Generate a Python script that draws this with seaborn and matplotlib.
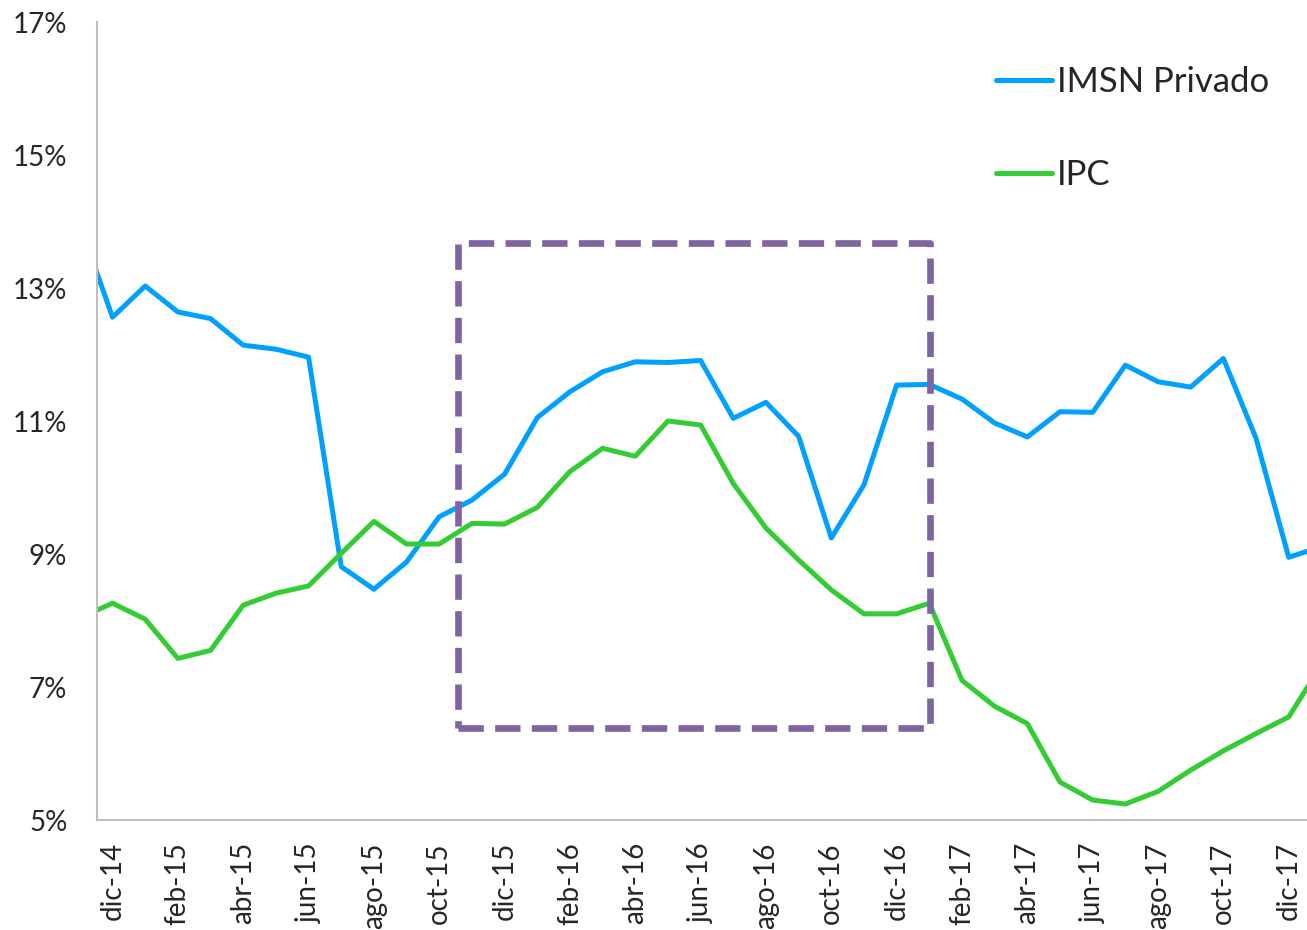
import matplotlib
matplotlib.use("Agg")
from matplotlib import pyplot as plt
from matplotlib.patches import Rectangle
from matplotlib.ticker import PercentFormatter
import pandas as pd
import seaborn as sns

# posicion 0 = dic-14; -1 = nov-14 y 37 = ene-18 quedan medio recortados
positions = list(range(-1, 38))

imsn_privado = [13.96, 12.56, 13.03, 12.64, 12.54, 12.14, 12.08, 11.96, 8.81, 8.47,
                8.88, 9.56, 9.81, 10.20, 11.05, 11.44, 11.74, 11.89, 11.88, 11.91,
                11.04, 11.28, 10.77, 9.24, 10.04, 11.54, 11.55, 11.33, 10.97, 10.76,
                11.14, 11.13, 11.84, 11.59, 11.51, 11.94, 10.74, 8.95, 9.11]

ipc = [8.04, 8.26, 8.02, 7.43, 7.55, 8.23, 8.41, 8.52, 9.01, 9.49,
       9.15, 9.15, 9.46, 9.45, 9.70, 10.24, 10.59, 10.47, 11.00, 10.94,
       10.06, 9.39, 8.91, 8.46, 8.10, 8.10, 8.26, 7.10, 6.71, 6.45,
       5.57, 5.30, 5.24, 5.43, 5.75, 6.04, 6.30, 6.55, 7.33]

tick_pos = list(range(0, 37, 2))
tick_labels = ['dic-14', 'feb-15', 'abr-15', 'jun-15', 'ago-15', 'oct-15', 'dic-15',
               'feb-16', 'abr-16', 'jun-16', 'ago-16', 'oct-16', 'dic-16',
               'feb-17', 'abr-17', 'jun-17', 'ago-17', 'oct-17', 'dic-17']

y_ticks = [5, 7, 9, 11, 13, 15, 17]

# recuadro punteado (periodo destacado)
box_x = (10.58, 25.03)
box_y = (6.38, 13.68)

df = pd.DataFrame({
    'pos': positions * 2,
    'valor': imsn_privado + ipc,
    'serie': ['IMSN Privado'] * len(positions) + ['IPC'] * len(positions),
})

sns.set_style("white")
plt.rcParams['font.family'] = ['Lato', 'DejaVu Sans']

fig = plt.figure(figsize=(13.07, 9.30), dpi=100)
ax = fig.add_axes([96.5 / 1307, 1 - 820 / 930, 1 - 96.5 / 1307, (820 - 22) / 930])

sns.lineplot(ax=ax, data=df, x='pos', y='valor', hue='serie',
             palette={'IMSN Privado': '#00A0FF', 'IPC': '#33CC33'},
             linewidth=3.6, estimator=None, sort=False)

ax.add_patch(Rectangle((box_x[0], box_y[0]), box_x[1] - box_x[0], box_y[1] - box_y[0],
                       fill=False, edgecolor='#8064A2', linewidth=4.8,
                       linestyle=(0, (3.8, 1.7)), joinstyle='round', zorder=3))

ax.set_xlim(-0.49, 36.56)
ax.set_ylim(5, 17)
ax.set_xticks(tick_pos)
ax.set_xticklabels(tick_labels, rotation=90, fontsize=20)
ax.set_yticks(y_ticks)
ax.yaxis.set_major_formatter(PercentFormatter(xmax=100, decimals=0))
ax.tick_params(axis='y', length=0, pad=21, labelsize=20)
ax.tick_params(axis='x', length=0, pad=16)
ax.set_xlabel('')
ax.set_ylabel('')

for s in ['top', 'right']:
    ax.spines[s].set_visible(False)
for s in ['left', 'bottom']:
    ax.spines[s].set_color('#BFBFBF')
    ax.spines[s].set_linewidth(1.5)

ax.legend(loc='upper left', bbox_to_anchor=(996 / 1307, 1 - 66 / 930),
          bbox_transform=fig.transFigure, frameon=False, fontsize=25,
          handlelength=1.6, handletextpad=0.15, labelspacing=1.76,
          borderpad=0, borderaxespad=0)

fig.savefig('out.png', dpi=100)
